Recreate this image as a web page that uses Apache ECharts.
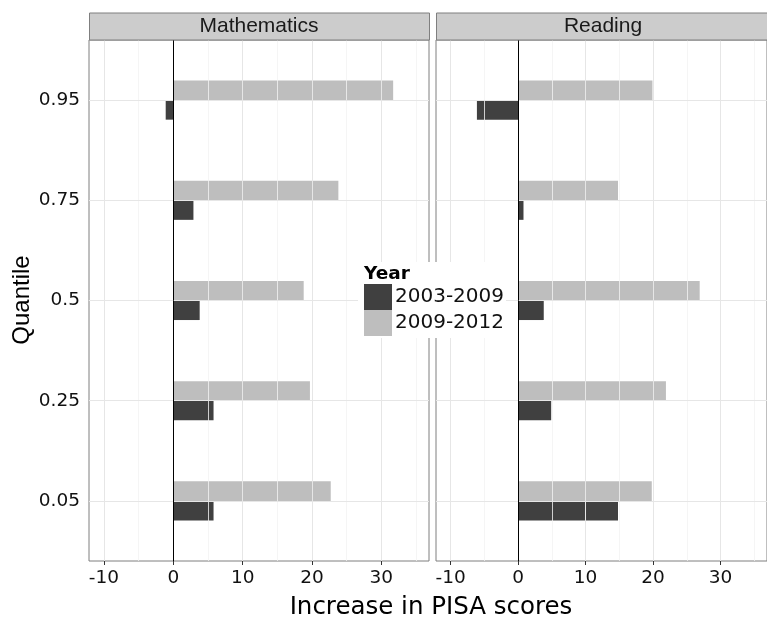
<!DOCTYPE html>
<html>
<head>
<meta charset="utf-8">
<script src="https://cdn.jsdelivr.net/npm/echarts@6/dist/echarts.min.js"></script>
<style>
  html, body { margin: 0; padding: 0; background: #ffffff; }
  #chart { width: 767px; height: 625px; }
</style>
</head>
<body>
<div id="chart"></div>
<script>
// Quantiles of the score distribution (bottom to top)
const quantiles = ['0.05', '0.25', '0.5', '0.75', '0.95'];
const subjects = ['Mathematics', 'Reading'];
const periods = ['2003-2009', '2009-2012'];

// Increase in PISA scores per quantile
const math0309 = [5.8, 5.8, 3.8, 2.9, -1.1];
const math0912 = [22.7, 19.7, 18.8, 23.8, 31.7];
const read0309 = [14.8, 4.9, 3.8, 0.8, -6.1];
const read0912 = [19.8, 21.9, 26.9, 14.8, 19.9];

const xTicks = [-10, 0, 10, 20, 30];
const xMinor = [-5, 5, 15, 25, 35];

const FONT = '"Liberation Sans", Arial, sans-serif';
const WIDE = '"DejaVu Sans", sans-serif';
const DARK = '#404040';
const LIGHT = '#bebebe';
const BAR_H = 0.195;          // bar thickness in quantile-axis units
const X_MIN = -12.16, X_MAX = 36.87;
const yPos = quantiles.map((q, i) => i + 1);

function barRenderer(upper) {
  return function (params, api) {
    const v = api.value(0), y = api.value(1);
    const p0 = api.coord([0, y]);
    const p1 = api.coord([v, y]);
    const h = api.size([0, BAR_H])[1];
    return {
      type: 'rect',
      shape: {
        x: Math.min(p0[0], p1[0]),
        y: upper ? p0[1] - h : p0[1],
        width: Math.abs(p1[0] - p0[0]),
        height: h
      },
      style: { fill: api.visual('color') }
    };
  };
}

function toPairs(values) { return values.map((v, i) => [v, yPos[i]]); }

function gridLines(idx) {
  const data = [];
  xMinor.forEach(x => data.push({ xAxis: x, lineStyle: { color: '#f3f3f3', width: 0.8, type: 'solid' } }));
  xTicks.forEach(x => data.push({ xAxis: x, lineStyle: { color: '#e6e6e6', width: 1, type: 'solid' } }));
  yPos.forEach(y => data.push({ yAxis: y, lineStyle: { color: '#e6e6e6', width: 1, type: 'solid' } }));
  return {
    type: 'scatter', xAxisIndex: idx, yAxisIndex: idx, data: [], z: 1,
    markLine: { silent: true, symbol: ['none', 'none'], label: { show: false }, animation: false, data: data }
  };
}

function zeroLine(idx) {
  return {
    type: 'scatter', xAxisIndex: idx, yAxisIndex: idx, data: [], z: 5,
    markLine: {
      silent: true, symbol: ['none', 'none'], label: { show: false }, animation: false,
      data: [{ xAxis: 0, lineStyle: { color: '#000000', width: 1, type: 'solid' } }]
    }
  };
}

function barSeries(idx, name, values, color, upper) {
  return {
    type: 'custom', name: name, xAxisIndex: idx, yAxisIndex: idx, z: 3,
    itemStyle: { color: color },
    renderItem: barRenderer(upper),
    encode: { x: 0, y: 1 },
    data: toPairs(values)
  };
}

function xAxisFor(idx) {
  return {
    type: 'value', gridIndex: idx, min: X_MIN, max: X_MAX,
    axisLine: { show: false },
    splitLine: { show: false },
    axisTick: { show: true, length: 4, customValues: xTicks, lineStyle: { color: '#333333' } },
    axisLabel: { customValues: xTicks, margin: 8, color: '#111111', fontFamily: WIDE, fontSize: 18.5,
      formatter: v => String(v) }
  };
}

function yAxisFor(idx, showLabels) {
  return {
    type: 'value', gridIndex: idx, min: 0.4, max: 5.6,
    axisLine: { show: false },
    splitLine: { show: false },
    axisTick: { show: showLabels, length: 4, customValues: yPos, lineStyle: { color: '#333333' } },
    axisLabel: { show: showLabels, customValues: yPos, margin: 9, color: '#111111', fontFamily: WIDE, fontSize: 18.5,
      formatter: v => quantiles[Math.round(v) - 1] }
  };
}

const chart = echarts.init(document.getElementById('chart'), null, { renderer: 'canvas' });

chart.setOption({
  animation: false,
  backgroundColor: '#ffffff',
  grid: [
    { left: 89, top: 40, width: 340, height: 521, show: true, borderColor: '#7f7f7f', borderWidth: 1, backgroundColor: 'transparent' },
    { left: 436, top: 40, width: 338.5, height: 521, show: true, borderColor: '#7f7f7f', borderWidth: 1, backgroundColor: 'transparent' }
  ],
  xAxis: [xAxisFor(0), xAxisFor(1)],
  yAxis: [yAxisFor(0, true), yAxisFor(1, false)],
  legend: {
    data: periods.map(p => ({ name: p, icon: 'rect' })),
    orient: 'vertical', left: 364, top: 284, padding: 0,
    itemWidth: 28, itemHeight: 26, itemGap: 0, z: 11,
    textStyle: { color: '#111111', fontFamily: WIDE, fontSize: 20, padding: [0, 0, 0, -2] }
  },
  graphic: [
    // facet strips
    { type: 'rect', left: 89, top: 12.5, z: 6, shape: { width: 340, height: 27 },
      style: { fill: '#cccccc', stroke: '#7f7f7f', lineWidth: 1 } },
    { type: 'text', x: 259, y: 26, z: 7,
      style: { text: subjects[0], fill: '#1a1a1a', font: '21px ' + FONT, textAlign: 'center', textVerticalAlign: 'middle' } },
    { type: 'rect', left: 436, top: 12.5, z: 6, shape: { width: 338.5, height: 27 },
      style: { fill: '#cccccc', stroke: '#7f7f7f', lineWidth: 1 } },
    { type: 'text', x: 603, y: 26, z: 7,
      style: { text: subjects[1], fill: '#1a1a1a', font: '21px ' + FONT, textAlign: 'center', textVerticalAlign: 'middle' } },
    // legend background and title
    { type: 'rect', left: 358, top: 262, z: 10, shape: { width: 148, height: 76 },
      style: { fill: '#ffffff' } },
    { type: 'text', x: 364, y: 274, z: 12,
      style: { text: 'Year', fill: '#000000', font: 'bold 18.5px ' + WIDE, textAlign: 'left', textVerticalAlign: 'middle' } },
    // axis titles
    { type: 'text', x: 22, y: 300, z: 7, rotation: Math.PI / 2,
      style: { text: 'Quantile', fill: '#000000', font: '24px ' + FONT, textAlign: 'center', textVerticalAlign: 'middle' } },
    { type: 'text', x: 431, y: 608, z: 7,
      style: { text: 'Increase in PISA scores', fill: '#000000', font: '24.5px ' + WIDE, textAlign: 'center', textVerticalAlign: 'middle' } }
  ],
  series: [
    gridLines(0), gridLines(1),
    barSeries(0, periods[1], math0912, LIGHT, true),
    barSeries(0, periods[0], math0309, DARK, false),
    barSeries(1, periods[1], read0912, LIGHT, true),
    barSeries(1, periods[0], read0309, DARK, false),
    zeroLine(0), zeroLine(1)
  ]
});
</script>
</body>
</html>
